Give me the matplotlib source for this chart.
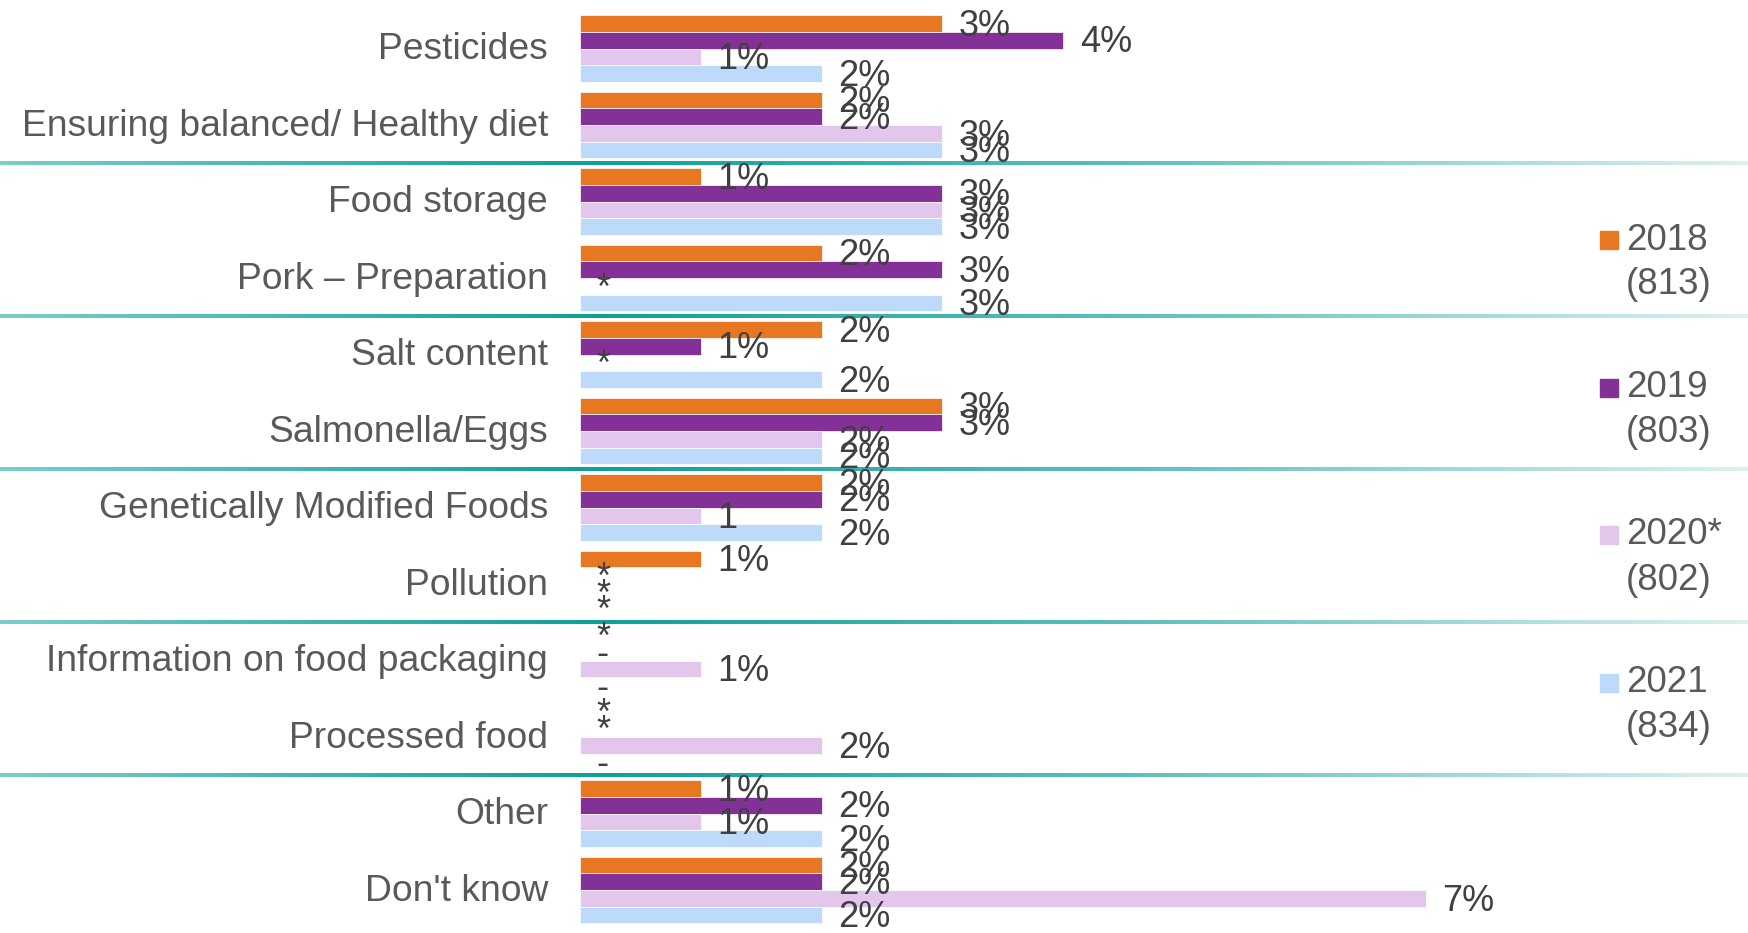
import numpy as np
import matplotlib
matplotlib.use("Agg")
import matplotlib.pyplot as plt
from matplotlib.collections import LineCollection
from matplotlib.colors import LinearSegmentedColormap
from matplotlib.patches import Rectangle
from matplotlib.transforms import blended_transform_factory, ScaledTranslation

plt.rcParams["font.family"] = ["Liberation Sans", "DejaVu Sans"]

categories = [
    "Pesticides",
    "Ensuring balanced/ Healthy diet",
    "Food storage",
    "Pork \u2013 Preparation",
    "Salt content",
    "Salmonella/Eggs",
    "Genetically Modified Foods",
    "Pollution",
    "Information on food packaging",
    "Processed food",
    "Other",
    "Don't know",
]

years = ["2018", "2019", "2020*", "2021"]
bases = ["(813)", "(803)", "(802)", "(834)"]

# percentages (0 where the survey reports "*" or "-")
v2018 = [3, 2, 1, 2, 2, 3, 2, 1, 0, 0, 1, 2]
v2019 = [4, 2, 3, 3, 1, 3, 2, 0, 0, 0, 2, 2]
v2020 = [1, 3, 3, 0, 0, 2, 1, 0, 1, 2, 1, 7]
v2021 = [2, 3, 3, 3, 2, 2, 2, 0, 0, 0, 2, 2]

l2018 = ["3%", "2%", "1%", "2%", "2%", "3%", "2%", "1%", "*", "*", "1%", "2%"]
l2019 = ["4%", "2%", "3%", "3%", "1%", "3%", "2%", "*", "-", "*", "2%", "2%"]
l2020 = ["1%", "3%", "3%", "*", "*", "2%", "1", "*", "1%", "2%", "1%", "7%"]
l2021 = ["2%", "3%", "3%", "3%", "2%", "2%", "2%", "*", "-", "-", "2%", "2%"]

values = [v2018, v2019, v2020, v2021]
labels = [l2018, l2019, l2020, l2021]
colors = ["#E87722", "#833197", "#E2C6EC", "#BDDAFB"]

W, H = 1749, 933
fig = plt.figure(figsize=(W / 100, H / 100), dpi=100)
ax = fig.add_axes([580 / W, 1 - 928.3 / H, 1 - 580 / W, 918 / H])

n = len(categories)
y = np.arange(n)
bh = 0.218
offsets = (np.arange(4) - 1.5) * bh

for vals, labs, col, off in zip(values, labels, colors, offsets):
    ax.barh(y + off, vals, height=bh, color=col, edgecolor="white",
            linewidth=0.5)
    for yi, v, lab in zip(y, vals, labs):
        ax.annotate(lab, (v, yi + off), xytext=(12, -2),
                    textcoords="offset points", ha="left", va="center",
                    fontsize=26, color="#404040")

ax.set_xlim(0, (W - 580) / 120.8)
ax.set_ylim(n - 0.5, -0.5)
ax.set_yticks(y)
ax.set_yticklabels(categories, fontsize=26.8, color="#595959")
ax.tick_params(axis="y", length=0, pad=23)
lift = ScaledTranslation(0, 3 / 100, fig.dpi_scale_trans)
for lbl in ax.get_yticklabels():
    lbl.set_transform(lbl.get_transform() + lift)
ax.set_xticks([])
for s in ax.spines.values():
    s.set_visible(False)

# teal separators between pairs of categories, fading toward the right
cmap = LinearSegmentedColormap.from_list(
    "sep",
    [(0.0, "#7acdc9"), (590 / W, "#0f9e99"), (1130 / W, "#5cbfbb"),
     (1.0, "#dcf0ef")],
)
tr = blended_transform_factory(fig.transFigure, ax.transData)
xs = np.linspace(0, 1, 400)
for yb in np.arange(1.5, n - 1, 2):
    segs = [[(xs[i], yb), (xs[i + 1], yb)] for i in range(len(xs) - 1)]
    lc = LineCollection(segs, colors=cmap(xs[:-1]), linewidths=2.9,
                        transform=tr, clip_on=False, capstyle="butt")
    ax.add_collection(lc)

# legend
for i, (yr, b, col) in enumerate(zip(years, bases, colors)):
    yc = 240 + i * 147.5
    fig.patches.append(Rectangle((1600 / W, 1 - (yc + 9) / H), 18 / W, 18 / H,
                                 transform=fig.transFigure, color=col))
    fig.text(1626 / W, 1 - yc / H, yr, fontsize=26.5, color="#595959",
             ha="left", va="center")
    fig.text(1626 / W, 1 - (yc + 45) / H, b, fontsize=26.5, color="#595959",
             ha="left", va="center")

fig.savefig("out.png", dpi=100)
